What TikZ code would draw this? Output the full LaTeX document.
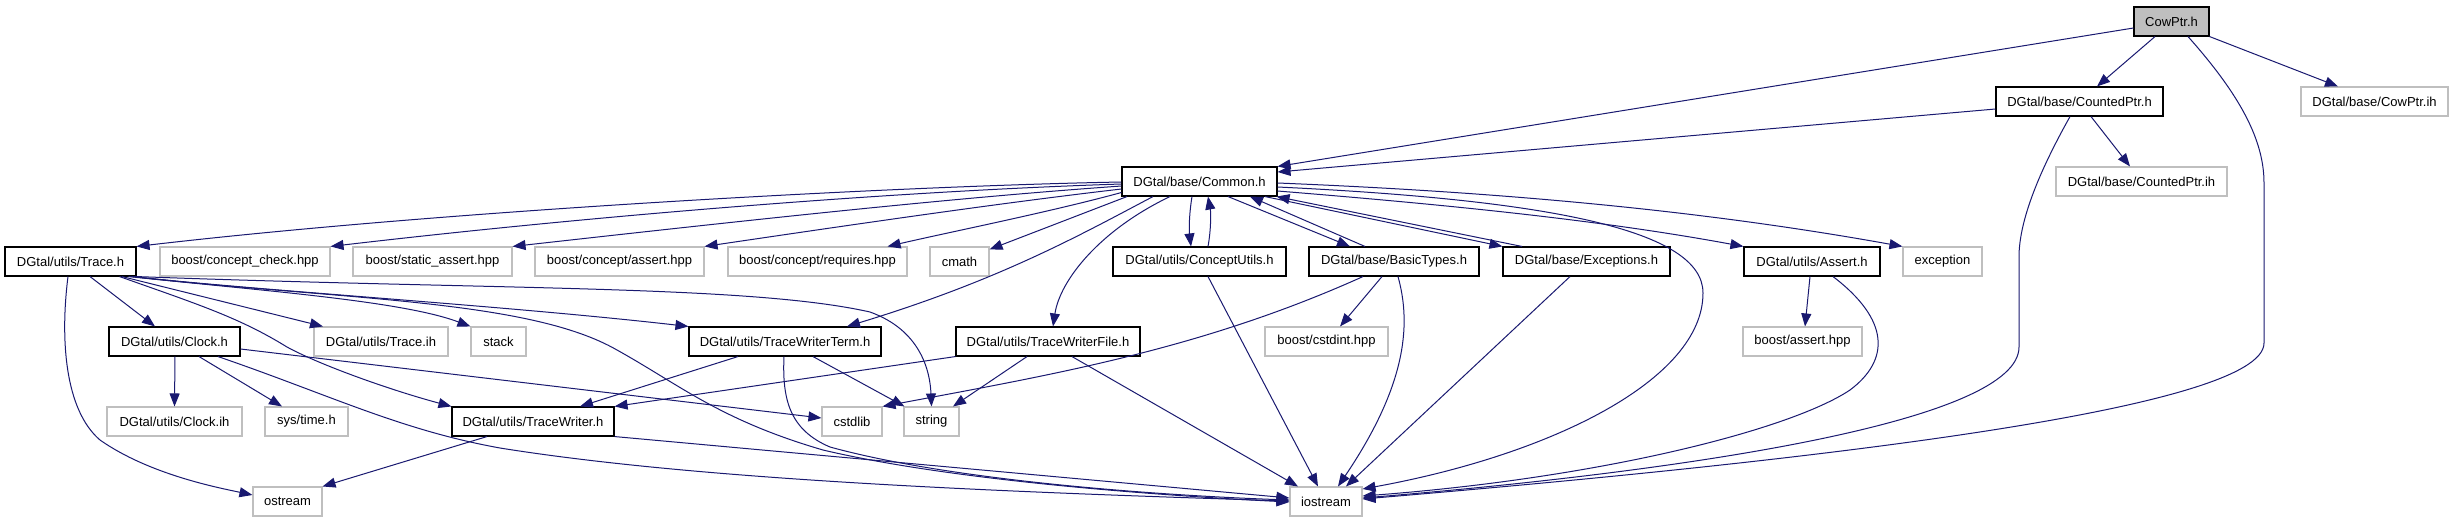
\documentclass[tikz,border=0pt]{standalone}
\usepackage{fontspec}
\setmainfont{Liberation Sans}
\usetikzlibrary{arrows.meta}
\definecolor{edgec}{HTML}{191970}
\definecolor{greyb}{HTML}{BFBFBF}
\begin{document}
\begin{tikzpicture}[x=1pt,y=-1pt,
  box/.style={draw=black, line width=1.1pt, fill=white, inner sep=0pt, minimum height=29pt, font=\fontsize{13}{15}\selectfont, text=black},
  gbox/.style={box, draw=greyb},
  edge/.style={draw=edgec, line width=1pt, -{Triangle[length=13pt,width=10pt]}}]
\useasboundingbox[fill=white] (0,0) rectangle (2453,523);
% row 0
\node[box, fill=greyb, minimum width=75pt] (cow) at (2171.5,21.5) {CowPtr.h};
% row 1
\node[box, minimum width=167pt] (cptr) at (2079.5,101.5) {DGtal/base/CountedPtr.h};
\node[gbox, minimum width=147pt] (cowih) at (2374.5,101.5) {DGtal/base/CowPtr.ih};
% row 2
\node[box, minimum width=155pt] (common) at (1199.5,181.5) {DGtal/base/Common.h};
\node[gbox, minimum width=171pt] (cptrih) at (2141.5,181.5) {DGtal/base/CountedPtr.ih};
% row 3
\node[box, minimum width=131pt] (trace) at (70.5,261.5) {DGtal/utils/Trace.h};
\node[gbox, minimum width=170pt] (ccheck) at (245,261.5) {boost/concept\_check.hpp};
\node[gbox, minimum width=159pt] (sassert) at (432.5,261.5) {boost/static\_assert.hpp};
\node[gbox, minimum width=169pt] (cassert) at (619.5,261.5) {boost/concept/assert.hpp};
\node[gbox, minimum width=179pt] (creq) at (817.5,261.5) {boost/concept/requires.hpp};
\node[gbox, minimum width=59pt] (cmath) at (959.5,261.5) {cmath};
\node[box, minimum width=173pt] (cutils) at (1199.5,261.5) {DGtal/utils/ConceptUtils.h};
\node[box, minimum width=170pt] (btypes) at (1394,261.5) {DGtal/base/BasicTypes.h};
\node[box, minimum width=167pt] (exc) at (1586.5,261.5) {DGtal/base/Exceptions.h};
\node[box, minimum width=136pt] (assert) at (1812,261.5) {DGtal/utils/Assert.h};
\node[gbox, minimum width=79pt] (exception) at (1942.5,261.5) {exception};
% row 4
\node[box, minimum width=131pt] (clock) at (174.5,341.5) {DGtal/utils/Clock.h};
\node[gbox, minimum width=134pt] (traceih) at (381,341.5) {DGtal/utils/Trace.ih};
\node[gbox, minimum width=55pt] (stack) at (498.5,341.5) {stack};
\node[box, minimum width=192pt] (twterm) at (785,341.5) {DGtal/utils/TraceWriterTerm.h};
\node[box, minimum width=184pt] (twfile) at (1048,341.5) {DGtal/utils/TraceWriterFile.h};
\node[gbox, minimum width=123pt] (cstdint) at (1326.5,341.5) {boost/cstdint.hpp};
\node[gbox, minimum width=119pt] (bassert) at (1802.5,341.5) {boost/assert.hpp};
% row 5
\node[gbox, minimum width=135pt] (clockih) at (174.5,421.5) {DGtal/utils/Clock.ih};
\node[gbox, minimum width=83pt] (systime) at (306.5,421.5) {sys/time.h};
\node[box, minimum width=162pt] (tw) at (533,421.5) {DGtal/utils/TraceWriter.h};
\node[gbox, minimum width=60pt] (cstdlib) at (852,421.5) {cstdlib};
\node[gbox, minimum width=55pt] (string) at (931.5,421.5) {string};
% row 6
\node[gbox, minimum width=69pt] (ostream) at (287.5,501.5) {ostream};
\node[gbox, minimum width=72pt] (iostream) at (1326,501.5) {iostream};

% CowPtr.h
\draw[edge] ([yshift=-6.5pt]cow.west) -- (common.north east);
\draw[edge] ([xshift=-16.5pt]cow.south) -- ([xshift=17.5pt]cptr.north);
\draw[edge] (cow.south east) -- ([xshift=-36.5pt]cowih.north);
\draw[edge] ([xshift=16.5pt]cow.south) .. controls (2240,95) and (2264,140) .. (2264,183) -- (2264,343) .. controls (2264,410) and (1800,462) .. ([yshift=2.5pt]iostream.east);
% CountedPtr.h
\draw[edge] ([yshift=-7.5pt]cptr.west) -- ([yshift=9.5pt]common.east);
\draw[edge] ([xshift=11.5pt]cptr.south) -- ([xshift=-11.5pt]cptrih.north);
\draw[edge] ([xshift=-9.5pt]cptr.south) .. controls (2040,170) and (2019,220) .. (2019,257) -- (2019,347) .. controls (2019,420) and (1700,470) .. ([yshift=3.5pt]iostream.east);
% Common.h
\draw[edge] ([yshift=-0.5pt]common.west) .. controls (900,186) and (450,210) .. (trace.north east);
\draw[edge] ([yshift=-2.5pt]common.west) .. controls (900,191) and (600,215) .. (ccheck.north east);
\draw[edge] ([yshift=-4.5pt]common.west) .. controls (950,198) and (750,220) .. (sassert.north east);
\draw[edge] ([yshift=-7.5pt]common.west) .. controls (1000,203) and (850,225) .. (cassert.north east);
\draw[edge] ([yshift=-11pt]common.west) .. controls (1050,212) and (950,232) .. ([xshift=-20pt]creq.north east);
\draw[edge] ([xshift=-72.5pt]common.south) -- ([yshift=-3pt]cmath.north east);
\draw[edge] ([xshift=-46.5pt]common.south) .. controls (1080,235) and (1000,280) .. ([xshift=62pt]twterm.north);
\draw[edge] ([xshift=-29.5pt]common.south) .. controls (1100,230) and (1060,280) .. ([xshift=5pt]twfile.north);
\draw[edge] ([xshift=-7.5pt]common.south) .. controls (1189,215) and (1189,230) .. ([xshift=-8.5pt]cutils.north);
\draw[edge] ([xshift=8.5pt]cutils.north) .. controls (1211,230) and (1211,213) .. ([xshift=8.5pt]common.south);
\draw[edge] ([xshift=28.5pt]common.south) -- ([xshift=-44pt]btypes.north);
\draw[edge] ([xshift=-29pt]btypes.north) -- ([xshift=50.5pt]common.south);
\draw[edge] ([xshift=65.5pt]common.south) -- (exc.north west);
\draw[edge] ([xshift=-64.5pt]exc.north) -- ([xshift=-1pt]common.south east);
\draw[edge] ([yshift=-1.5pt]common.east) .. controls (1500,192) and (1700,210) .. (exception.north west);
\draw[edge] ([yshift=-9.5pt]common.east) .. controls (1450,205) and (1600,220) .. (assert.north west);
\draw[edge] ([yshift=-5.5pt]common.east) .. controls (1550,200) and (1703,230) .. (1703,293) .. controls (1703,380) and (1550,455) .. ([yshift=12.5pt]iostream.east);
% ConceptUtils.h, BasicTypes.h, Exceptions.h, Assert.h
\draw[edge] ([xshift=8.5pt]cutils.south) -- ([xshift=-8pt]iostream.north);
\draw[edge] ([xshift=-12pt]btypes.south) -- ([xshift=13.5pt]cstdint.north);
\draw[edge] ([xshift=4pt]btypes.south) .. controls (1410,320) and (1410,380) .. ([xshift=12pt]iostream.north);
\draw[edge] ([xshift=-31pt]btypes.south) .. controls (1200,350) and (1050,375) .. (cstdlib.north east);
\draw[edge] ([xshift=-16.5pt]exc.south) -- ([xshift=20pt]iostream.north);
\draw[edge] ([xshift=-2pt]assert.south) -- ([xshift=2.5pt]bassert.north);
\draw[edge] ([xshift=21pt]assert.south) .. controls (1890,320) and (1890,360) .. (1850,390) .. controls (1790,430) and (1600,478) .. ([yshift=5.5pt]iostream.east);
% TraceWriterFile.h
\draw[edge] (twfile.south west) -- (tw.north east);
\draw[edge] ([xshift=-21pt]twfile.south) -- ([xshift=21.5pt]string.north);
\draw[edge] ([xshift=24pt]twfile.south) -- ([xshift=-28pt]iostream.north);
% TraceWriterTerm.h
\draw[edge] ([xshift=-47pt]twterm.south) -- ([xshift=47pt]tw.north);
\draw[edge] ([xshift=28pt]twterm.south) -- ([xshift=1pt]string.north west);
\draw[edge] ([xshift=-1pt]twterm.south) .. controls (782,400) and (790,430) .. (830,447) .. controls (950,480) and (1150,495) .. ([yshift=1.5pt]iostream.west);
% TraceWriter.h
\draw[edge] ([xshift=-46pt]tw.south) -- (ostream.north east);
\draw[edge] (tw.south east) -- ([yshift=3.5pt]iostream.west);
% Clock.h
\draw[edge] ([xshift=0.5pt]clock.south) -- (clockih.north);
\draw[edge] ([xshift=24.5pt]clock.south) -- ([xshift=-24.5pt]systime.north);
\draw[edge] ([yshift=-7.5pt]clock.east) -- ([yshift=3.5pt]cstdlib.west);
\draw[edge] ([xshift=43.5pt]clock.south) .. controls (330,395) and (400,430) .. (500,448) .. controls (700,480) and (1000,492) .. ([yshift=0.5pt]iostream.west);
% Trace.h
\draw[edge] ([xshift=-2.5pt]trace.south) .. controls (60,340) and (65,410) .. (100,440) .. controls (150,475) and (220,488) .. ([yshift=6.5pt]ostream.west);
\draw[edge] ([xshift=19.5pt]trace.south) -- ([xshift=-19.5pt]clock.north);
\draw[edge] ([xshift=51.5pt]trace.south) -- ([xshift=-58pt]traceih.north);
\draw[edge] ([xshift=49pt]trace.south) .. controls (200,305) and (240,318) .. (287,347) .. controls (320,365) and (390,390) .. (tw.north west);
\draw[edge] ([xshift=61pt]trace.south) .. controls (250,290) and (400,300) .. (stack.north west);
\draw[edge] ([xshift=63pt]trace.south) .. controls (250,290) and (500,305) .. (twterm.north west);
\draw[edge] (trace.south east) .. controls (500,290) and (750,285) .. (870,312) .. controls (920,330) and (930,370) .. (string.north);
\draw[edge] ([xshift=58pt]trace.south) .. controls (350,300) and (530,300) .. (617,350) .. controls (680,385) and (720,420) .. (823,450) .. controls (950,480) and (1150,495) .. ([yshift=-0.5pt]iostream.west);
\end{tikzpicture}
\end{document}
